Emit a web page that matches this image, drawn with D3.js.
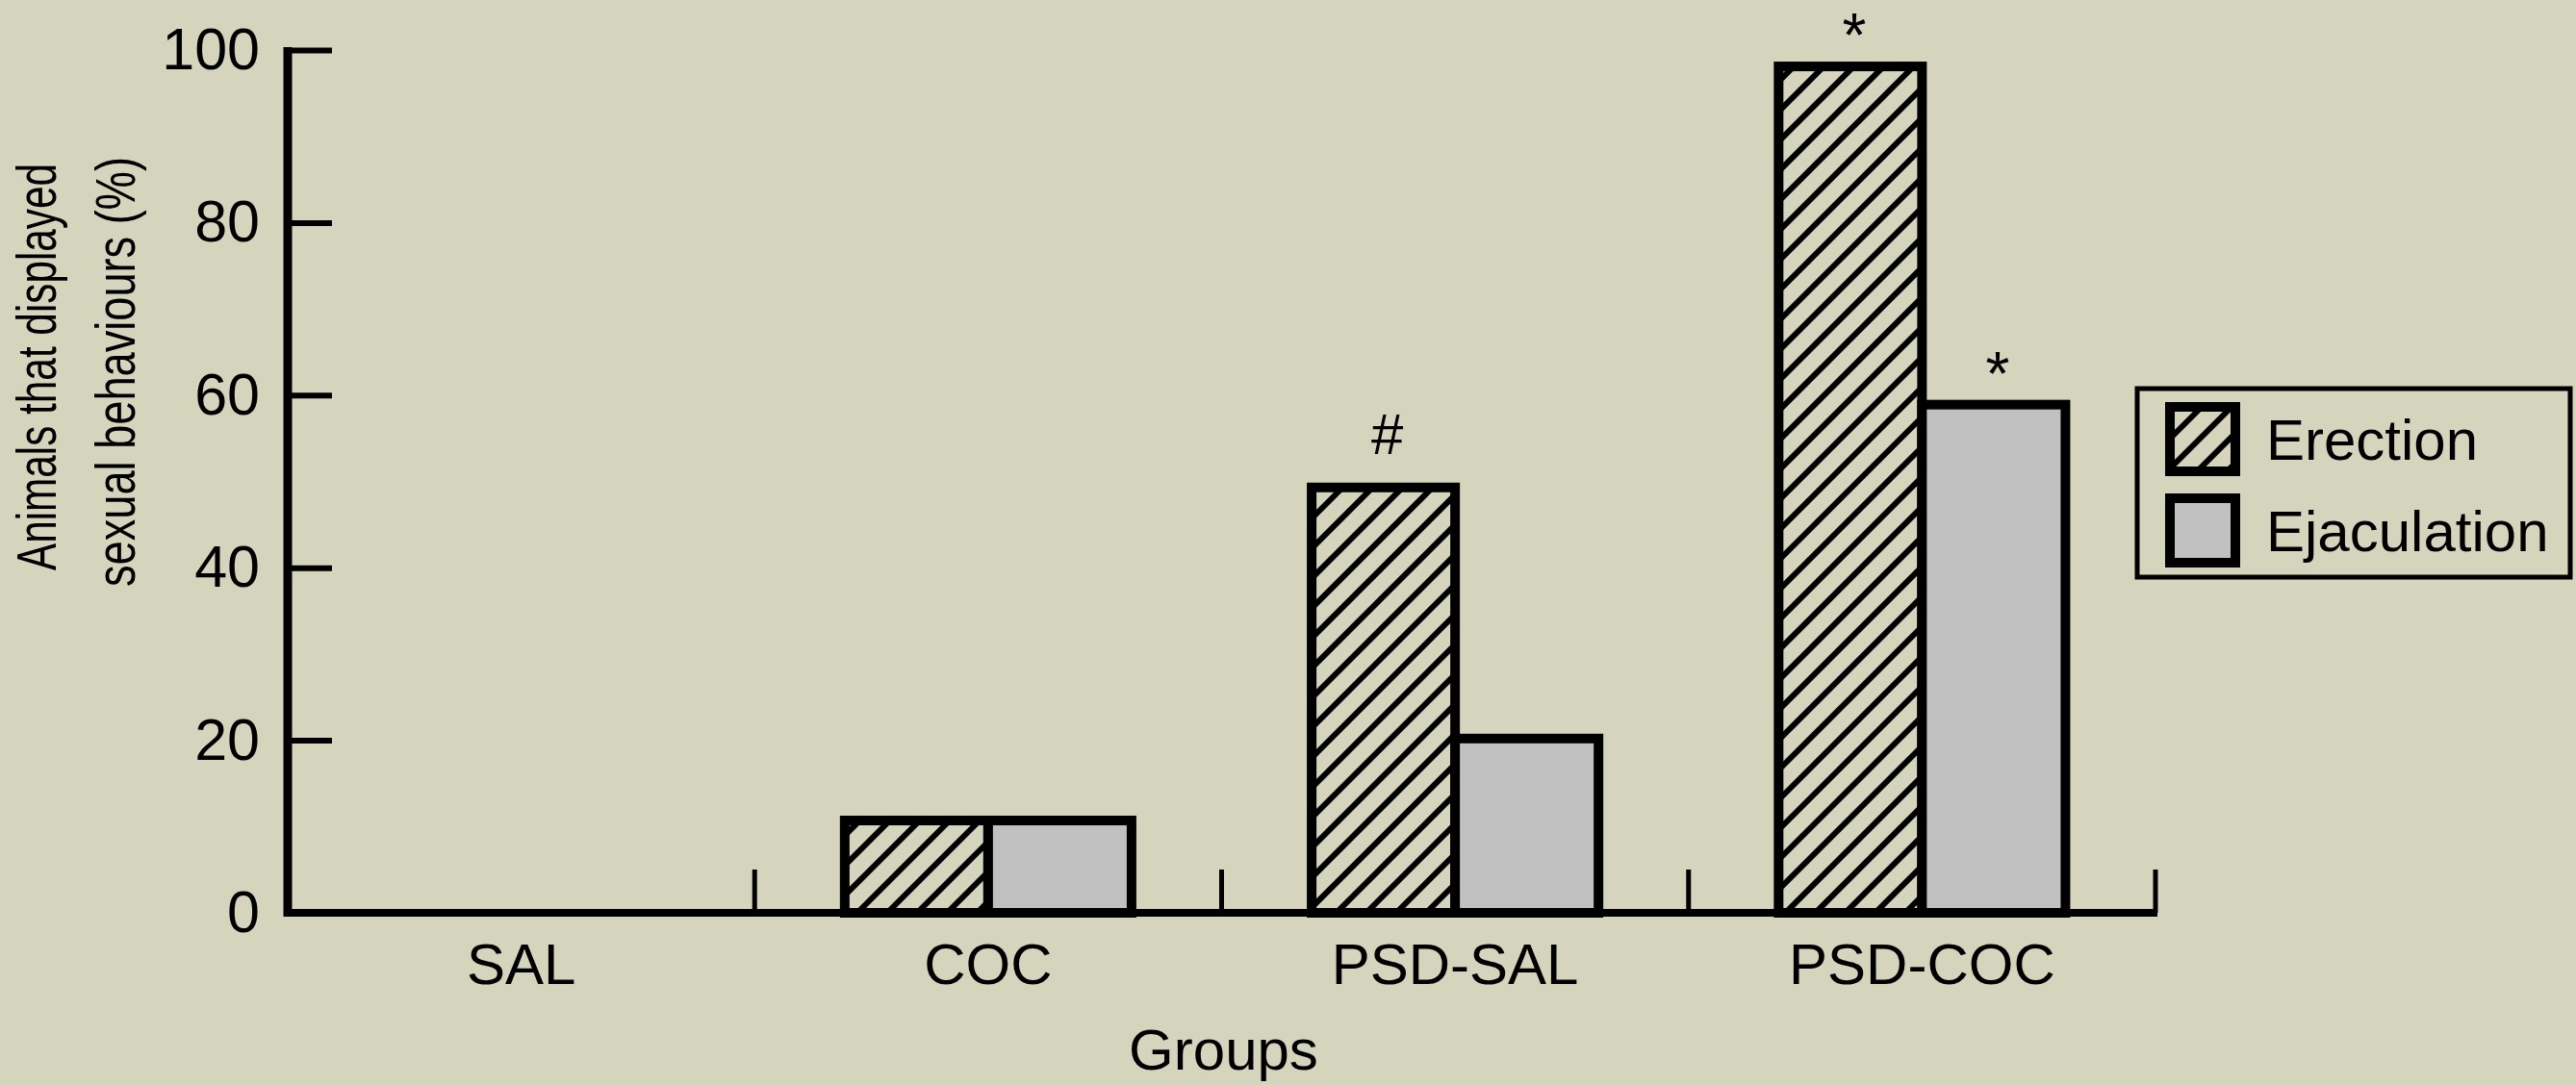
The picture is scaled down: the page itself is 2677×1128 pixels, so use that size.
<!DOCTYPE html>
<html>
<head>
<meta charset="utf-8">
<script src="https://cdn.jsdelivr.net/npm/d3@7"></script>
<style>
  html, body { margin: 0; padding: 0; background: #d5d5bd; }
  svg { display: block; }
  text { font-family: "Liberation Sans", Arial, Helvetica, sans-serif; fill: #000; }
</style>
</head>
<body>
<svg id="chart" width="2677" height="1128"></svg>
<script>
// ---- data ----
const categories = ["SAL", "COC", "PSD-SAL", "PSD-COC"];
const series = ["Erection", "Ejaculation"];
const erection = [0, 10.7, 49.3, 98.1];
const ejaculation = [0, 10.7, 20.2, 58.9];
const erectionMarks = ["", "", "#", "*"];
const ejaculationMarks = ["", "", "", "*"];
const yTicks = [0, 20, 40, 60, 80, 100];
const yTitleLines = ["Animals that displayed", "sexual behaviours (%)"];
const xTitle = "Groups";

// ---- setup ----
const svg = d3.select("#chart");
const W = 2677, H = 1128;
svg.append("rect").attr("width", W).attr("height", H).attr("fill", "#d5d5bd");

const defs = svg.append("defs");
const pat = defs.append("pattern")
  .attr("id", "hatch")
  .attr("patternUnits", "userSpaceOnUse")
  .attr("width", 22).attr("height", 22)
  .attr("patternTransform", "rotate(45)");
pat.append("rect").attr("x", 0).attr("y", 0).attr("width", 6).attr("height", 22).attr("fill", "#000");

const x0 = d3.scaleBand().domain(categories).range([299, 2240]).paddingInner(0).paddingOuter(0);
const x1 = d3.scaleBand().domain(series).range([0, x0.bandwidth()]).paddingInner(0).paddingOuter(0.628);
const y = d3.scaleLinear().domain([0, 100]).range([949, 52]);

const fills = { "Erection": "url(#hatch)", "Ejaculation": "#c0c0c0" };
const values = { "Erection": erection, "Ejaculation": ejaculation };
const marks = { "Erection": erectionMarks, "Ejaculation": ejaculationMarks };

// ---- y axis (ticks + labels) ----
const yAxis = d3.axisLeft(y).tickValues(yTicks).tickSize(-46).tickSizeOuter(0).tickPadding(29);
const gy = svg.append("g").attr("transform", "translate(299,0)").call(yAxis);
gy.select(".domain").remove();
gy.selectAll(".tick line").attr("stroke", "#000").attr("stroke-width", 6);
gy.selectAll(".tick text")
  .attr("font-size", 61)
  .attr("fill", "#000")
  .style("font-family", "'Liberation Sans', Arial, sans-serif");

// axis lines
svg.append("line")
  .attr("x1", 299).attr("x2", 299)
  .attr("y1", y(100) - 3).attr("y2", y(0) + 4)
  .attr("stroke", "#000").attr("stroke-width", 9);
svg.append("line")
  .attr("x1", 295).attr("x2", x0.range()[1] + 2)
  .attr("y1", y(0)).attr("y2", y(0))
  .attr("stroke", "#000").attr("stroke-width", 8);

// category separators
svg.append("g").selectAll("line")
  .data(categories)
  .join("line")
  .attr("x1", d => x0(d) + x0.step())
  .attr("x2", d => x0(d) + x0.step())
  .attr("y1", y(0))
  .attr("y2", y(0) - 45)
  .attr("stroke", "#000").attr("stroke-width", 5);

// category labels
svg.append("g").selectAll("text")
  .data(categories)
  .join("text")
  .attr("x", d => x0(d) + x0.bandwidth() / 2)
  .attr("y", 1023)
  .attr("text-anchor", "middle")
  .attr("font-size", 60)
  .text(d => d);

// x title
svg.append("text")
  .attr("x", (x0.range()[0] + x0.range()[1]) / 2 + 2)
  .attr("y", 1112)
  .attr("text-anchor", "middle")
  .attr("font-size", 60)
  .text(xTitle);

// y title
const yt = svg.append("g").attr("transform", "translate(0,384) rotate(-90)");
yt.append("text")
  .attr("x", 2.5).attr("y", 58)
  .attr("text-anchor", "middle")
  .attr("font-size", 58)
  .attr("textLength", 423).attr("lengthAdjust", "spacingAndGlyphs")
  .text(yTitleLines[0]);
yt.append("text")
  .attr("x", -2.5).attr("y", 140)
  .attr("text-anchor", "middle")
  .attr("font-size", 58)
  .attr("textLength", 447).attr("lengthAdjust", "spacingAndGlyphs")
  .text(yTitleLines[1]);

// ---- bars ----
const barData = [];
categories.forEach((c, i) => {
  series.forEach(s => {
    barData.push({ cat: c, s: s, v: values[s][i], mark: marks[s][i] });
  });
});

svg.append("g").selectAll("rect")
  .data(barData.filter(d => d.v > 0))
  .join("rect")
  .attr("x", d => x0(d.cat) + x1(d.s))
  .attr("y", d => y(d.v))
  .attr("width", x1.bandwidth())
  .attr("height", d => y(0) - y(d.v))
  .attr("fill", d => fills[d.s])
  .attr("stroke", "#000")
  .attr("stroke-width", 10);

// significance marks
svg.append("g").selectAll("text")
  .data(barData.filter(d => d.mark))
  .join("text")
  .attr("x", d => x0(d.cat) + x1(d.s) + x1.bandwidth() / 2 + 4)
  .attr("y", d => d.mark === "*" ? y(d.v) - 10 : y(d.v) - 35)
  .attr("text-anchor", "middle")
  .attr("font-size", d => d.mark === "*" ? 64 : 60)
  .text(d => d.mark);

// ---- legend ----
const lg = svg.append("g");
lg.append("rect")
  .attr("x", 2221).attr("y", 404)
  .attr("width", 450).attr("height", 196)
  .attr("fill", "none").attr("stroke", "#000").attr("stroke-width", 5);
series.forEach((s, i) => {
  const yy = 423 + i * 95;
  lg.append("rect")
    .attr("x", 2255).attr("y", yy)
    .attr("width", 68).attr("height", 67)
    .attr("fill", fills[s]).attr("stroke", "#000").attr("stroke-width", 10);
  lg.append("text")
    .attr("x", 2355).attr("y", 478 + i * 95)
    .attr("font-size", 60)
    .text(s);
});
</script>
</body>
</html>
